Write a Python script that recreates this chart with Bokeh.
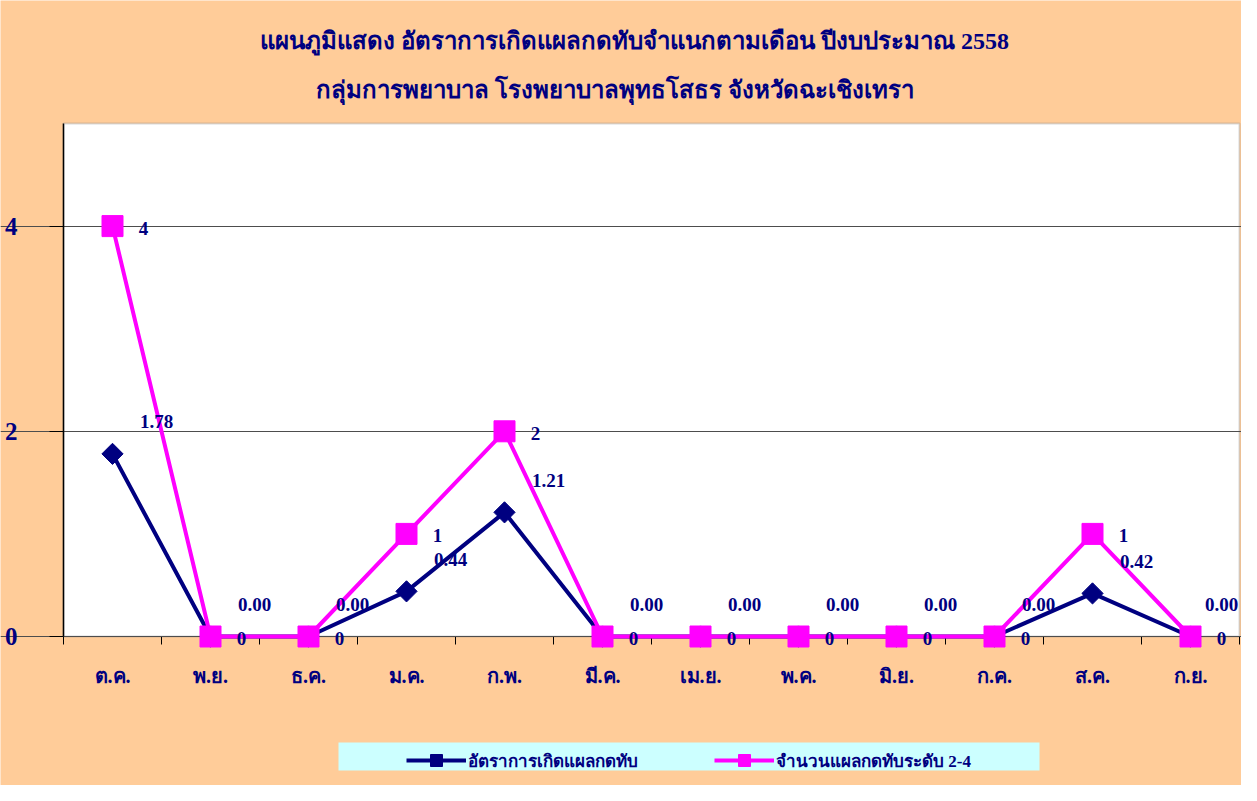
from bokeh.plotting import figure
from bokeh.models import (Range1d, FixedTicker, Label, Legend, LegendItem,
                          BoxAnnotation, ColumnDataSource)
from bokeh.core.properties import value
from bokeh.embed import file_html
from bokeh.resources import INLINE
import numpy as np

months = ["ต.ค.", "พ.ย.", "ธ.ค.", "ม.ค.", "ก.พ.", "มี.ค.",
          "เม.ย.", "พ.ค.", "มิ.ย.", "ก.ค.", "ส.ค.", "ก.ย."]
rate = [1.78, 0, 0, 0.44, 1.21, 0, 0, 0, 0, 0, 0.42, 0]
count = [4, 0, 0, 1, 2, 0, 0, 0, 0, 0, 1, 0]
y_ticks = [0, 2, 4]
y_max = 5
title1 = "แผนภูมิแสดง อัตราการเกิดแผลกดทับจำแนกตามเดือน  ปีงบประมาณ 2558"
title2 = "กลุ่มการพยาบาล  โรงพยาบาลพุทธโสธร จังหวัดฉะเชิงเทรา"
name_rate = "อัตราการเกิดแผลกดทับ"
name_count = "จำนวนแผลกดทับระดับ 2-4"

NAVY = "#000080"
PINK = "#FF00FF"
PEACH = "#FFCC99"
FONT = "Liberation Serif"

# layout (pixels within the figure); the whole figure is the frame
W, H = 1241, 785
PLOT_LEFT, PLOT_RIGHT, PLOT_TOP, PLOT_BOTTOM = 63, 1239, 123, 636
n = len(months)
ppu = (PLOT_BOTTOM - PLOT_TOP) / y_max
ppx = (PLOT_RIGHT - PLOT_LEFT) / n
x_lo = -PLOT_LEFT / ppx
x_hi = n + (W - PLOT_RIGHT) / ppx
y_lo = -(H - PLOT_BOTTOM) / ppu
y_hi = y_max + PLOT_TOP / ppu

xs = np.arange(n) + 0.5
rate_dx = np.full(n, 44.0)
rate_dx[-1] = 31.0
src = ColumnDataSource(dict(
    x=xs, rate=rate, count=count,
    rate_lbl=[f"{v:.2f}" for v in rate],
    count_lbl=[f"{v:d}" for v in count],
    rate_dx=rate_dx,
))

p = figure(width=W, height=H, output_backend="svg", toolbar_location=None,
           x_range=Range1d(x_lo, x_hi), y_range=Range1d(y_lo, y_hi), title=None)
p.min_border_left = 0
p.min_border_right = 0
p.min_border_top = 0
p.min_border_bottom = 0
p.background_fill_color = PEACH
p.border_fill_color = PEACH
p.outline_line_color = None

# white plot area with grey outline
p.add_layout(BoxAnnotation(left=0, right=n, bottom=0, top=y_max,
                           fill_color="white", fill_alpha=1.0,
                           line_color="#808080", line_width=2, level="image"))

# grid
p.xgrid.visible = False
p.ygrid.ticker = FixedTicker(ticks=y_ticks)
p.ygrid.bounds = (0, n)
p.ygrid.grid_line_color = "#4d4d4d"
p.ygrid.grid_line_width = 1

# y axis, drawn at x = 0
p.yaxis.fixed_location = 0
p.yaxis.ticker = FixedTicker(ticks=y_ticks)
p.yaxis.bounds = (0, y_max)
p.yaxis.major_tick_out = 14
p.yaxis.major_tick_in = 0
p.yaxis.minor_tick_out = 0
p.yaxis.minor_tick_in = 0
p.yaxis.major_label_standoff = 32
p.yaxis.major_label_text_font = FONT
p.yaxis.major_label_text_font_style = "bold"
p.yaxis.major_label_text_font_size = "25px"
p.yaxis.major_label_text_color = NAVY
p.yaxis.axis_line_color = "black"
p.yaxis.axis_line_width = 1.5
p.yaxis.major_tick_line_color = "black"

# x axis, drawn at y = 0
p.xaxis.fixed_location = 0
p.xaxis.level = "underlay"
p.xaxis.bounds = (0, n)
p.xaxis.ticker = FixedTicker(ticks=list(xs), minor_ticks=list(range(n + 1)))
p.xaxis.major_label_overrides = {float(x): m for x, m in zip(xs, months)}
p.xaxis.major_tick_out = 0
p.xaxis.major_tick_in = 0
p.xaxis.minor_tick_out = 8
p.xaxis.minor_tick_in = 0
p.xaxis.minor_tick_line_color = "black"
p.xaxis.axis_line_color = "black"
p.xaxis.major_label_standoff = 20
p.xaxis.major_label_text_font = FONT
p.xaxis.major_label_text_font_style = "bold"
p.xaxis.major_label_text_font_size = "20px"
p.xaxis.major_label_text_color = NAVY

# series
l1 = p.line("x", "rate", source=src, line_color=NAVY, line_width=4)
m1 = p.scatter("x", "rate", source=src, marker="square", angle=np.pi / 4,
               size=15, fill_color=NAVY, line_color=NAVY)
l2 = p.line("x", "count", source=src, line_color=PINK, line_width=4)
m2 = p.scatter("x", "count", source=src, marker="square", size=21,
               fill_color=PINK, line_color=PINK)

p.text("x", "rate", text="rate_lbl", source=src, x_offset="rate_dx", y_offset=-32,
       text_align="center", text_baseline="middle",
       text_font=value(FONT), text_font_style="bold", text_font_size="19px",
       text_color=NAVY)
p.text("x", "count", text="count_lbl", source=src, x_offset=31, y_offset=2,
       text_align="center", text_baseline="middle",
       text_font=value(FONT), text_font_style="bold", text_font_size="19px",
       text_color=NAVY)

# titles
p.add_layout(Label(x=(637 - PLOT_LEFT) / ppx, y=(PLOT_BOTTOM - 40) / ppu, text=title1,
                   text_align="center", text_baseline="middle", text_font=FONT,
                   text_font_style="bold", text_font_size="24px", text_color=NAVY))
p.add_layout(Label(x=(617 - PLOT_LEFT) / ppx, y=(PLOT_BOTTOM - 89) / ppu, text=title2,
                   text_align="center", text_baseline="middle", text_font=FONT,
                   text_font_style="bold", text_font_size="24px", text_color=NAVY))

# legend box
p.add_layout(BoxAnnotation(left=(338 - PLOT_LEFT) / ppx, right=(1039 - PLOT_LEFT) / ppx,
                           top=-(742 - PLOT_BOTTOM) / ppu, bottom=-(770 - PLOT_BOTTOM) / ppu,
                           fill_color="#CCFFFF", fill_alpha=1.0, line_color=None,
                           level="underlay"))

legend = Legend(items=[LegendItem(label=name_rate, renderers=[l1, m1]),
                       LegendItem(label=name_count, renderers=[l2, m2])],
                orientation="horizontal", location=(406, 10),
                padding=4, spacing=76, glyph_width=60, glyph_height=30,
                label_height=30, label_standoff=2,
                label_text_font=FONT, label_text_font_style="bold",
                label_text_font_size="17px", label_text_color=NAVY,
                background_fill_alpha=0, border_line_color=None)
p.add_layout(legend, "center")

open("out.html", "w").write(file_html(p, INLINE))
